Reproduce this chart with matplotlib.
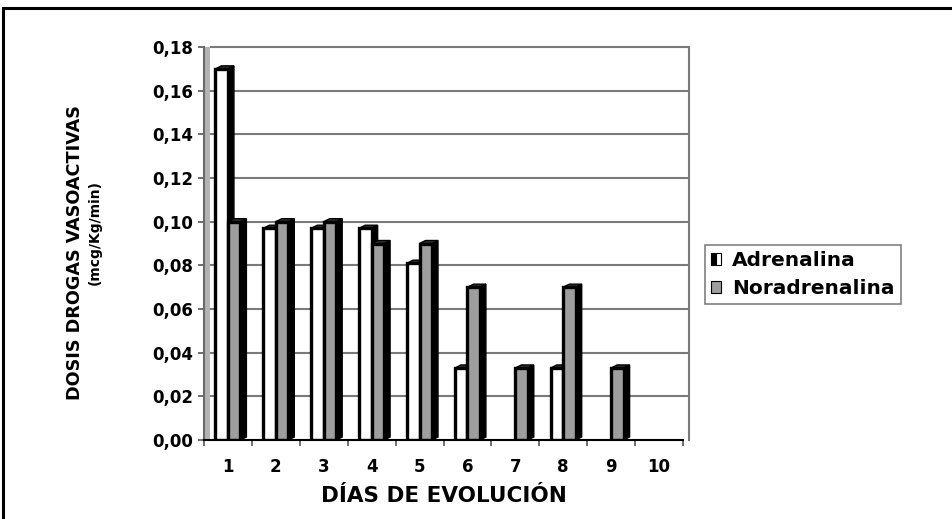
import numpy as np
import matplotlib
matplotlib.use("Agg")
import matplotlib.pyplot as plt
from matplotlib.patches import Polygon, Rectangle, Patch
from matplotlib.legend_handler import HandlerTuple

plt.rcParams['font.family'] = ['DejaVu Sans']
plt.rcParams['font.weight'] = 'bold'

dias = [1, 2, 3, 4, 5, 6, 7, 8, 9, 10]
adrenalina = [0.17, 0.097, 0.097, 0.097, 0.081, 0.033, 0.0, 0.033, 0.0, 0.0]
noradrenalina = [0.10, 0.10, 0.10, 0.09, 0.09, 0.07, 0.033, 0.07, 0.033, 0.0]
yticks = [0.00, 0.02, 0.04, 0.06, 0.08, 0.10, 0.12, 0.14, 0.16, 0.18]

W, H = 952, 519
fig = plt.figure(figsize=(W / 100, H / 100), dpi=100)
ax = fig.add_axes([204 / W, 1 - 440 / H, (683 - 204) / W, (440 - 47) / H])
ax.set_xlim(0.5, 10.5)
ax.set_ylim(0, 0.18)

# 3D look: back wall shifted right, bars with a dark side and top
off = 6 / 47.9
dx = 6 / 47.9
dy = 0.02 / 43.67 * 3
bw = 0.26

# left side wall
ax.add_patch(Polygon([(0.5, 0), (0.5 + off, 0), (0.5 + off, 0.18), (0.5, 0.18)],
                     closed=True, facecolor='#b4b4b4', edgecolor='none', zorder=1,
                     clip_on=False))
for yv in yticks[1:]:
    ax.plot([0.5 + off, 10.5 + off], [yv, yv], color='#7a7a7a', lw=1.5, zorder=1,
            clip_on=False, solid_capstyle='butt')
ax.plot([10.5 + off, 10.5 + off], [0, 0.18], color='#7a7a7a', lw=1.5, zorder=1,
        clip_on=False)


def bar3d(x0, h, face):
    if h <= 0:
        return
    ax.add_patch(Polygon([(x0 + bw, 0), (x0 + bw + dx, dy), (x0 + bw + dx, h + dy), (x0 + bw, h)],
                         closed=True, facecolor='black', edgecolor='black', lw=1.0, zorder=3))
    ax.add_patch(Polygon([(x0, h), (x0 + dx, h + dy), (x0 + bw + dx, h + dy), (x0 + bw, h)],
                         closed=True, facecolor='#303030', edgecolor='black', lw=1.0, zorder=3))
    ax.add_patch(Rectangle((x0, 0), bw, h, facecolor=face, edgecolor='black', lw=2.4, zorder=3))


for d, a, n in zip(dias, adrenalina, noradrenalina):
    bar3d(d - bw, a, 'white')
    bar3d(d, n, '#9e9e9e')

ax.plot([0.5, 10.5], [0, 0], color='black', lw=1.5, zorder=4, clip_on=False)

for s in ['top', 'right', 'bottom']:
    ax.spines[s].set_visible(False)
ax.spines['left'].set_color('#6a6a6a')
ax.spines['left'].set_linewidth(1.5)

ax.set_yticks(yticks)
ax.set_yticklabels([f"{v:.2f}".replace('.', ',') for v in yticks])
ax.tick_params(axis='y', length=4.5, width=1.2, color='#555555', pad=3, labelsize=12)

ax.set_xticks(np.arange(0.5, 11, 1))
ax.set_xticklabels([])
ax.tick_params(axis='x', which='major', length=4, width=1.2, color='#555555')
ax.set_xticks(dias, minor=True)
ax.set_xticklabels([str(d) for d in dias], minor=True)
ax.tick_params(axis='x', which='minor', length=0, pad=13, labelsize=12)

fig.text(444 / W, 1 - 496 / H, 'DÍAS DE EVOLUCIÓN', ha='center', va='center',
         fontsize=15.5, fontweight='bold')
fig.text(75 / W, 1 - 253 / H, 'DOSIS DROGAS VASOACTIVAS', ha='center', va='center',
         rotation=90, fontsize=12.7, fontweight='bold')
fig.text(95 / W, 1 - 232 / H, '(mcg/Kg/min)', ha='center', va='center',
         rotation=90, fontsize=10, fontweight='bold')

h_adr = (Patch(facecolor='black', edgecolor='black', lw=0.8),
         Patch(facecolor='white', edgecolor='black', lw=0.8))
h_nor = Patch(facecolor='#9e9e9e', edgecolor='black', lw=0.8)
leg = fig.legend([h_adr, h_nor], ['Adrenalina', 'Noradrenalina'],
                 handler_map={tuple: HandlerTuple(ndivide=None, pad=0)},
                 loc='upper left', bbox_to_anchor=(705 / W, 1 - 245 / H),
                 borderaxespad=0, fontsize=14.5, handlelength=0.5, handleheight=0.5,
                 handletextpad=0.55, borderpad=0.3, labelspacing=0.45, fancybox=False,
                 framealpha=1, edgecolor='#808080')
leg.get_frame().set_linewidth(1.2)

# outer frame running off the right and bottom edges
fig.add_artist(Rectangle((3 / W, -0.2), 2, 1.2 - 8 / H, transform=fig.transFigure,
                         fill=False, edgecolor='black', lw=2.2))

fig.savefig('out.png', dpi=100, facecolor='white')
